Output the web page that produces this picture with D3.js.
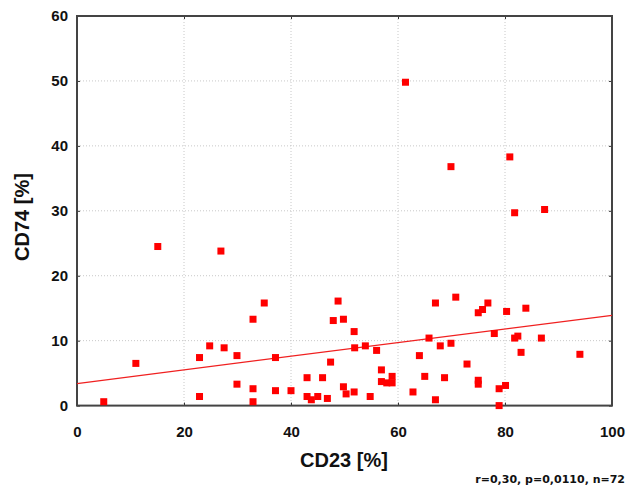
<!DOCTYPE html>
<html>
<head>
<meta charset="utf-8">
<script src="https://cdn.jsdelivr.net/npm/d3@7"></script>
<style>
  body { margin: 0; background: #fff; }
</style>
</head>
<body>
<svg id="chart"></svg>
<script>
// CD23 [%] values (x)
let cd23 = [
  15.1, 26.9, 35.0, 32.9, 24.8, 27.5, 22.9, 29.9, 37.1, 11.0,
  29.9, 32.9, 37.1, 40.0, 22.9, 32.9, 5.0, 43.0, 45.9, 47.4,
  43.0, 43.8, 45.0, 46.8, 48.8, 47.9,
  49.8, 51.8, 51.9, 53.9, 56.0, 56.9, 56.9, 57.9, 58.9, 58.9,
  49.8, 50.3, 51.8, 54.8, 62.8, 64.0, 65.0, 65.8, 67.0, 67.0,
  67.9, 68.7, 69.9, 70.8, 72.9, 75.0, 75.8, 76.8, 75.0, 75.0,
  78.0, 78.9, 80.1, 78.9, 80.3, 83.9, 81.8, 82.4, 83.0, 86.8,
  94.0,
  61.4, 69.9, 80.9, 81.8, 87.4
];

// CD74 [%] values (y)
let cd74 = [
  24.5, 23.8, 15.8, 13.3, 9.2, 8.9, 7.4, 7.7, 7.4, 6.5,
  3.3, 2.6, 2.3, 2.3, 1.4, 0.6, 0.6, 4.3, 4.3, 6.7,
  1.4, 0.9, 1.4, 1.1, 16.1, 13.1,
  13.3, 11.4, 8.9, 9.2, 8.5, 5.5, 3.7, 3.5, 4.5, 3.5,
  2.9, 1.8, 2.1, 1.4, 2.1, 7.7, 4.5, 10.4, 15.8, 0.9,
  9.2, 4.3, 9.6, 16.7, 6.4, 14.3, 14.8, 15.8, 3.9, 3.3,
  11.1, 2.6, 3.1, 0.0, 14.5, 15.0, 10.4, 10.7, 8.2, 10.4,
  7.9,
  49.8, 36.8, 38.3, 29.7, 30.2
];

// regression line end points (x, y)
let fitX = [0, 100];
let fitY = [3.4, 13.9];

let xTicks = [0, 20, 40, 60, 80, 100];
let yTicks = [0, 10, 20, 30, 40, 50, 60];

let xTitle = 'CD23 [%]';
let yTitle = 'CD74 [%]';
let note = 'r=0,30, p=0,0110, n=72';

let width = 630;
let height = 492;
let plotLeft = 77, plotRight = 612, plotTop = 16, plotBottom = 405.6;
let sans = '"Liberation Sans", Arial, sans-serif';

let svg = d3.select('#chart').attr('width', width).attr('height', height);

let xScale = d3.scaleLinear().domain([0, 100]).range([plotLeft, plotRight]);
let yScale = d3.scaleLinear().domain([0, 60]).range([plotBottom, plotTop]);

// grid
svg.append('g')
  .selectAll('line')
  .data(xTicks.slice(1, -1))
  .enter()
  .append('line')
  .attr('x1', d => xScale(d)).attr('x2', d => xScale(d))
  .attr('y1', plotTop).attr('y2', plotBottom)
  .attr('stroke', '#c8c8c8').attr('stroke-width', 1)
  .attr('stroke-dasharray', '1,2');

svg.append('g')
  .selectAll('line')
  .data(yTicks.slice(1, -1))
  .enter()
  .append('line')
  .attr('x1', plotLeft).attr('x2', plotRight)
  .attr('y1', d => yScale(d)).attr('y2', d => yScale(d))
  .attr('stroke', '#c8c8c8').attr('stroke-width', 1)
  .attr('stroke-dasharray', '1,2');

// axes
let xAxis = d3.axisBottom(xScale).tickValues(xTicks).tickSize(-3).tickPadding(21);
let yAxis = d3.axisLeft(yScale).tickValues(yTicks).tickSize(-3).tickPadding(9);

svg.append('g')
  .attr('transform', 'translate(0,' + plotBottom + ')')
  .call(xAxis);
svg.append('g')
  .attr('transform', 'translate(' + plotLeft + ',0)')
  .call(yAxis);

svg.append('g')
  .attr('transform', 'translate(0,' + plotTop + ')')
  .call(d3.axisTop(xScale).tickValues(xTicks).tickSize(-3).tickFormat(''));
svg.append('g')
  .attr('transform', 'translate(' + plotRight + ',0)')
  .call(d3.axisRight(yScale).tickValues(yTicks).tickSize(-3).tickFormat(''));

svg.selectAll('.domain').remove();
svg.selectAll('.tick line').attr('stroke', '#333');
svg.selectAll('.tick text')
  .style('font-family', sans)
  .style('font-size', '15px')
  .style('font-weight', 'bold')
  .attr('fill', '#111');

// frame
svg.append('rect')
  .attr('x', plotLeft).attr('y', plotTop)
  .attr('width', plotRight - plotLeft).attr('height', plotBottom - plotTop)
  .attr('fill', 'none').attr('stroke', '#444').attr('stroke-width', 2);

// regression line
svg.append('line')
  .attr('x1', xScale(fitX[0])).attr('y1', yScale(fitY[0]))
  .attr('x2', xScale(fitX[1])).attr('y2', yScale(fitY[1]))
  .attr('stroke', '#f02020').attr('stroke-width', 1.3);

// points
svg.append('g')
  .selectAll('rect')
  .data(cd23.map((v, i) => [v, cd74[i]]))
  .enter()
  .append('rect')
  .attr('x', d => xScale(d[0]) - 3.5)
  .attr('y', d => yScale(d[1]) - 3.5)
  .attr('width', 7).attr('height', 7)
  .attr('fill', '#ff0000');

// titles
svg.append('text')
  .attr('x', 344).attr('y', 467)
  .attr('text-anchor', 'middle')
  .style('font-family', sans).style('font-size', '20px').style('font-weight', 'bold')
  .attr('fill', '#111')
  .text(xTitle);

svg.append('text')
  .attr('transform', 'translate(29,217) rotate(-90)')
  .attr('text-anchor', 'middle')
  .style('font-family', sans).style('font-size', '20px').style('font-weight', 'bold')
  .attr('fill', '#111')
  .text(yTitle);

svg.append('text')
  .attr('x', 625).attr('y', 483)
  .attr('text-anchor', 'end')
  .style('font-family', '"DejaVu Sans", sans-serif').style('font-size', '11px').style('font-weight', 'bold')
  .attr('fill', '#111')
  .text(note);
</script>
</body>
</html>
